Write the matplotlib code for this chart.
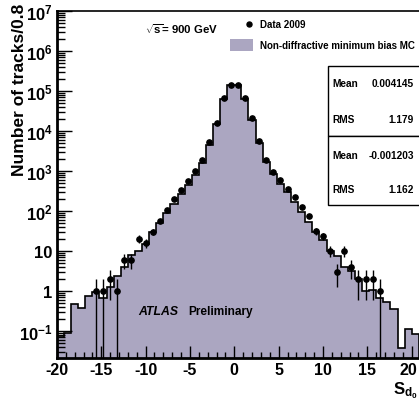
import numpy as np
import matplotlib
matplotlib.use("Agg")
import matplotlib.pyplot as plt
from matplotlib.patches import Rectangle
from matplotlib.lines import Line2D
from matplotlib.transforms import ScaledTranslation

plt.rcParams['font.family'] = ['Liberation Sans', 'DejaVu Sans']
plt.rcParams['font.weight'] = 'bold'
plt.rcParams['mathtext.fontset'] = 'custom'
plt.rcParams['mathtext.rm'] = 'Liberation Sans:bold'
plt.rcParams['mathtext.bf'] = 'Liberation Sans:bold'
plt.rcParams['mathtext.it'] = 'Liberation Sans:bold:italic'

# ---------------- data ----------------
bin_width = 0.8
x_start = -20.0
mc_counts = [0.068, 0.089, 0.46, 0.38, 0.74, 0.95, 0.67, 1.26, 2.4, 4.0,
             7.8, 10, 15, 30, 51, 91, 152, 270, 435, 780,
             1580, 4400, 15000, 62000, 140000,
             140000, 62000, 19000, 5000, 1700, 850, 480, 290, 166, 95,
             53, 30, 18.5, 10, 7.4, 4.0, 3.1, 2.0, 0.97, 1.05,
             0.67, 0.53, 0.36, 0.036, 0.11, 0.081]

data_x = [-15.6, -14.8, -14.0, -13.2, -12.4, -11.6, -10.8, -10.0, -9.2, -8.4,
          -7.6, -6.8, -6.0, -5.2, -4.4, -3.6, -2.8, -2.0, -1.2, -0.4,
          0.4, 1.2, 2.0, 2.8, 3.6, 4.4, 5.2, 6.0, 6.8, 7.6,
          8.4, 9.2, 10.0, 10.8, 11.6, 12.4, 13.2, 14.0, 14.8, 15.6, 16.4]
data_y = [1, 1, 2, 1, 6, 6, 20, 16, 30, 57,
          107, 204, 340, 550, 980, 1860, 5300, 16000, 67000, 145000,
          145000, 67000, 21000, 5500, 1900, 970, 590, 360, 220, 124,
          75, 31, 23, 10, 3, 10, 4, 2, 2, 2, 1]

xtick_vals = [-20, -15, -10, -5, 0, 5, 10, 15, 20]
xtick_labels = ['-20', '-15', '-10', '-5', '0', '5', '10', '15', '20']
ytick_vals = [1e-1, 1, 10, 1e2, 1e3, 1e4, 1e5, 1e6, 1e7]
ytick_labels = [r'$\mathbf{10^{-1}}$', '1', '10', r'$\mathbf{10^{2}}$', r'$\mathbf{10^{3}}$',
                r'$\mathbf{10^{4}}$', r'$\mathbf{10^{5}}$', r'$\mathbf{10^{6}}$', r'$\mathbf{10^{7}}$']

stats_mc = ("0.004145", "1.179")
stats_data = ("-0.001203", "1.162")

# ---------------- figure ----------------
W, H = 419, 406
fig = plt.figure(figsize=(W / 100, H / 100), dpi=100)

def fx(px):
    return px / W

def fy(py):
    return 1 - py / H

ax_left, ax_right, ax_top, ax_bottom = 56.9, 419.0, 12.3, 359.3
ax = fig.add_axes([fx(ax_left), fy(ax_bottom), fx(ax_right - ax_left), (ax_bottom - ax_top) / H])

edges = x_start + bin_width * np.arange(len(mc_counts) + 1)
fill_color = '#aba6c1'
ax.stairs(mc_counts, edges, baseline=1e-4, fill=True, color=fill_color, zorder=1)
ax.stairs(mc_counts, edges, baseline=1e-4, fill=False, color='black', linewidth=1.2, zorder=2)

dy = np.array(data_y, dtype=float)
err = np.sqrt(dy)
lower = np.minimum(err, dy - 1e-4)
ax.errorbar(data_x, dy, yerr=[lower, err], fmt='o', color='black', markersize=3.8,
            elinewidth=1.0, capsize=0, zorder=3)

ax.set_yscale('log')
ax.set_xlim(-20, -20 + (ax_right - ax_left) / 8.87)
ax.set_ylim(10 ** (-1 - (ax_bottom - 331.7) / 40), 1e7)

ax.set_xticks(xtick_vals, xtick_labels)
ax.xaxis.set_minor_locator(matplotlib.ticker.MultipleLocator(1))
ax.set_yticks(ytick_vals, ytick_labels)
ax.yaxis.set_minor_locator(matplotlib.ticker.LogLocator(base=10, subs=np.arange(2, 10), numticks=30))
ax.yaxis.set_minor_formatter(matplotlib.ticker.NullFormatter())

ax.tick_params(axis='both', which='both', direction='in', width=1.0, labelsize=12)
ax.tick_params(axis='x', which='major', length=9, pad=3, labelsize=11.5)
ax.tick_params(axis='x', which='minor', length=4.5)
ax.tick_params(axis='y', which='major', length=11, pad=3)
ax.tick_params(axis='y', which='minor', length=6)
for lab in ax.get_xticklabels() + ax.get_yticklabels():
    lab.set_fontweight('bold')

# keep the last x tick label ("20") inside the canvas
last_tick = ax.xaxis.get_major_ticks()[-1]
last_tick.label1.set_transform(last_tick.label1.get_transform()
                               + ScaledTranslation(-3 / 100, 0, fig.dpi_scale_trans))

ax.spines['right'].set_visible(False)
ax.spines['left'].set_linewidth(2.0)
ax.spines['bottom'].set_linewidth(2.0)
ax.spines['top'].set_linewidth(1.2)

# labels
fig.text(fx(19.5), fy(4), 'Number of tracks/0.8', rotation=90, ha='center', va='top',
         fontsize=12.5, fontweight='bold')
fig.text(fx(418), fy(394), r'$\mathbf{S_{d_0}}$', ha='right', va='baseline', fontsize=12)

fig.text(fx(145), fy(29), r'$\sqrt{\mathbf{s}}$' + '= 900 GeV', ha='left', va='center',
         fontsize=8.2, fontweight='bold')

# legend
fig.add_artist(Line2D([fx(249)], [fy(25)], marker='o', color='black', markersize=3.6,
                      transform=fig.transFigure))
fig.text(fx(260), fy(25), 'Data 2009', ha='left', va='center', fontsize=7, fontweight='bold')
fig.add_artist(Rectangle((fx(230), fy(52)), fx(23), 12 / H, facecolor=fill_color,
                         edgecolor='none', transform=fig.transFigure))
fig.text(fx(260), fy(46), 'Non-diffractive minimum bias MC', ha='left', va='center',
         fontsize=7, fontweight='bold')

# stats boxes
for top, bot in [(66.7, 136.7), (136.7, 206.0)]:
    fig.add_artist(Rectangle((fx(327.7), fy(bot)), fx(100), (bot - top) / H, facecolor='white',
                             edgecolor='black', linewidth=1.0, transform=fig.transFigure, zorder=5))
rows = [(84.3, 'Mean', stats_mc[0]), (120.0, 'RMS', stats_mc[1]),
        (155.7, 'Mean', stats_data[0]), (190.0, 'RMS', stats_data[1])]
for yy, name, val in rows:
    fig.text(fx(332.5), fy(yy), name, ha='left', va='center', fontsize=7.3, fontweight='bold', zorder=6)
    fig.text(fx(414), fy(yy), val, ha='right', va='center', fontsize=7.3, fontweight='bold', zorder=6)

fig.text(fx(138), fy(312), 'ATLAS', ha='left', va='center', fontsize=8.8, fontweight='bold',
         fontstyle='italic')
fig.text(fx(188), fy(312), 'Preliminary', ha='left', va='center', fontsize=8.6, fontweight='bold')

fig.savefig('out.png', dpi=100)
